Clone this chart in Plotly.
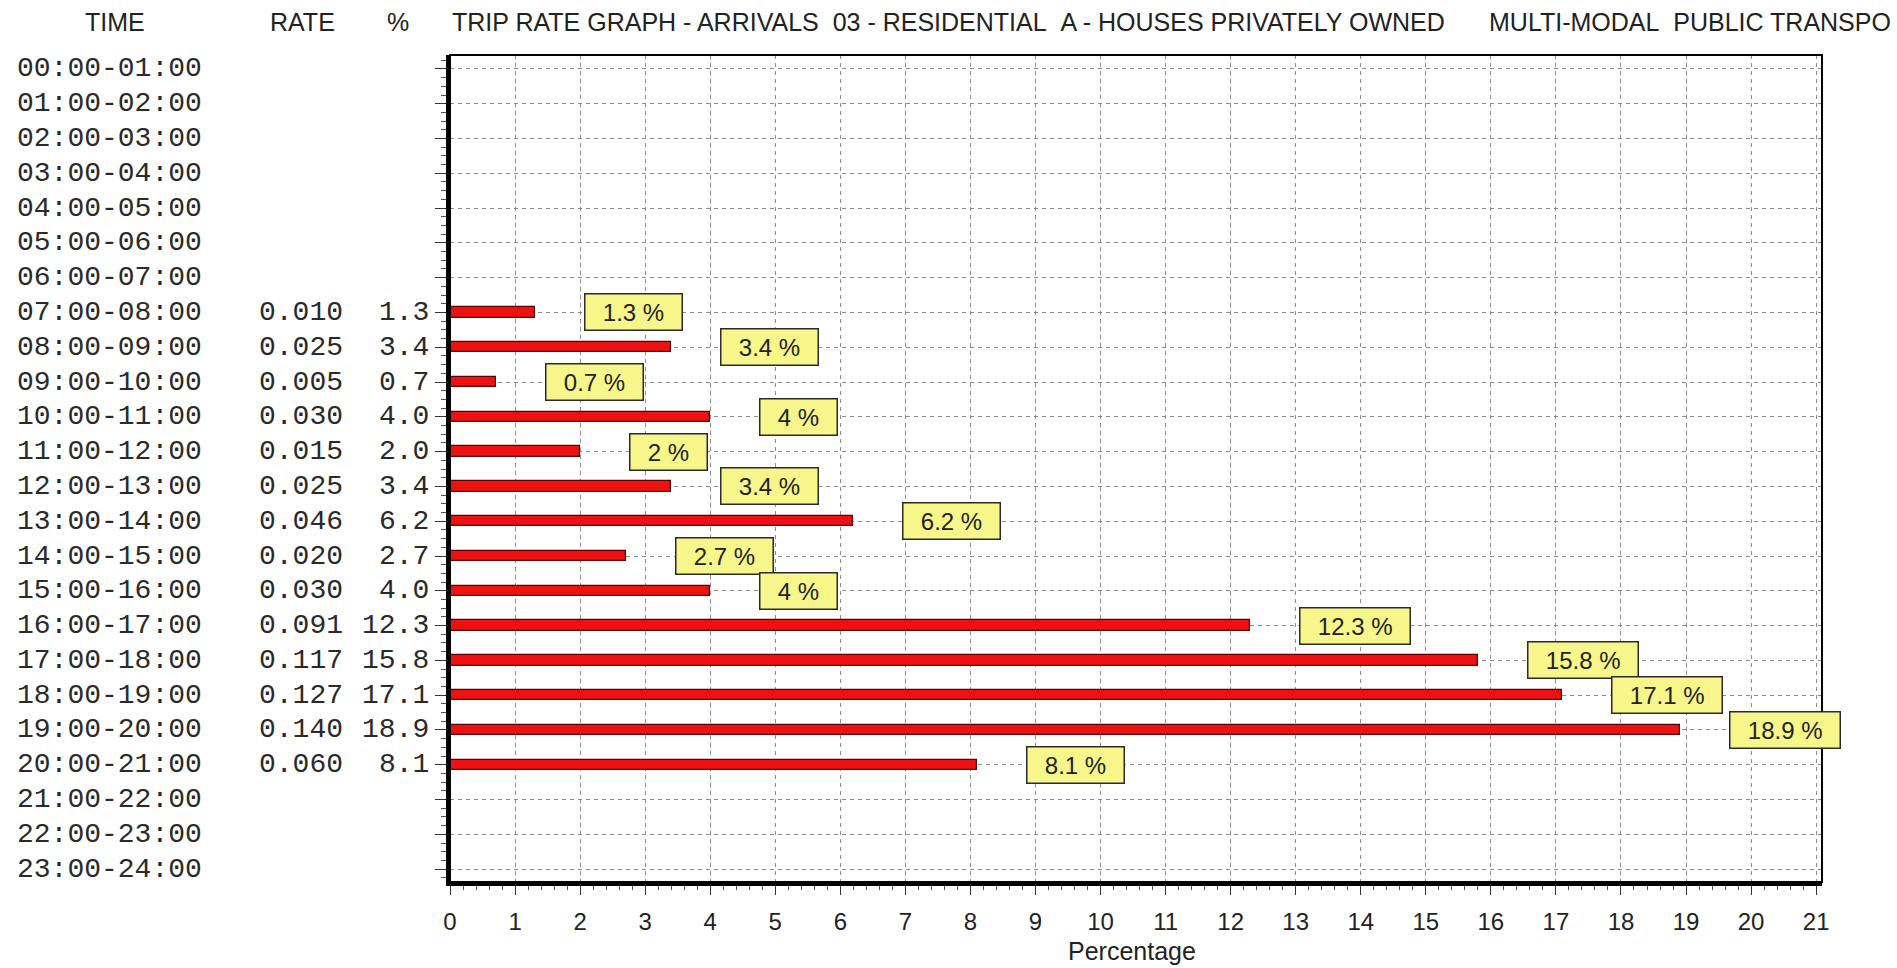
import plotly.graph_objects as go

# ---------------- data ----------------
time_labels = [
    "00:00-01:00", "01:00-02:00", "02:00-03:00", "03:00-04:00", "04:00-05:00",
    "05:00-06:00", "06:00-07:00", "07:00-08:00", "08:00-09:00", "09:00-10:00",
    "10:00-11:00", "11:00-12:00", "12:00-13:00", "13:00-14:00", "14:00-15:00",
    "15:00-16:00", "16:00-17:00", "17:00-18:00", "18:00-19:00", "19:00-20:00",
    "20:00-21:00", "21:00-22:00", "22:00-23:00", "23:00-24:00",
]
rates = [None, None, None, None, None, None, None,
         0.010, 0.025, 0.005, 0.030, 0.015, 0.025, 0.046, 0.020, 0.030,
         0.091, 0.117, 0.127, 0.140, 0.060,
         None, None, None]
percents = [None, None, None, None, None, None, None,
            1.3, 3.4, 0.7, 4.0, 2.0, 3.4, 6.2, 2.7, 4.0,
            12.3, 15.8, 17.1, 18.9, 8.1,
            None, None, None]
x_ticks = list(range(0, 22))
header_time = "TIME"
header_rate = "RATE"
header_pct = "%"
title_a = "TRIP RATE GRAPH - ARRIVALS\u00a0\u00a003 - RESIDENTIAL\u00a0\u00a0A - HOUSES PRIVATELY OWNED"
title_b = "MULTI-MODAL\u00a0\u00a0PUBLIC TRANSPO"
x_title = "Percentage"

# ---------------- geometry (pixels) ----------------
W, H = 1897, 968
L, R, T, B = 450, 1822, 55, 882
pw = R - L
ph = B - T


def px_x(p):
    return (p - L) / pw


def px_y(p):
    return (B - p) / ph


rows = list(range(len(time_labels)))

fig = go.Figure()
fig.add_trace(go.Bar(
    x=percents, y=rows, orientation="h", width=0.3,
    marker=dict(color="#EE1111", line=dict(color="#5A0000", width=1.2)),
    hoverinfo="skip", showlegend=False,
))

annotations = []
mono = dict(family="Liberation Mono", size=28, color="#2A2A2A")
for i, t in enumerate(time_labels):
    annotations.append(dict(xref="paper", yref="y", x=px_x(15), y=i, text=t,
                            xanchor="left", yanchor="middle", showarrow=False, font=mono))
    if rates[i] is not None:
        annotations.append(dict(xref="paper", yref="y", x=px_x(345), y=i,
                                text=f"{rates[i]:.3f}", xanchor="right", yanchor="middle",
                                showarrow=False, font=mono))
    if percents[i] is not None:
        annotations.append(dict(xref="paper", yref="y", x=px_x(431), y=i,
                                text=f"{percents[i]:.1f}", xanchor="right", yanchor="middle",
                                showarrow=False, font=mono))
        annotations.append(dict(xref="x", yref="y", x=percents[i], y=i, xshift=49,
                                text="\u00a0\u00a0" + f"{percents[i]:g} %" + "\u00a0\u00a0",
                                xanchor="left", yanchor="middle", showarrow=False,
                                bgcolor="#F6F68A", bordercolor="#2A2A2A", borderwidth=1.5,
                                borderpad=4,
                                font=dict(family="Liberation Sans", size=24, color="#222222")))

hdr_font = dict(family="Liberation Sans", size=25, color="#222222")
hy = px_y(22)
annotations += [
    dict(xref="paper", yref="paper", x=px_x(115), y=hy, text=header_time, xanchor="center",
         yanchor="middle", showarrow=False, font=hdr_font),
    dict(xref="paper", yref="paper", x=px_x(302), y=hy, text=header_rate, xanchor="center",
         yanchor="middle", showarrow=False, font=hdr_font),
    dict(xref="paper", yref="paper", x=px_x(398), y=hy, text=header_pct, xanchor="center",
         yanchor="middle", showarrow=False, font=hdr_font),
    dict(xref="paper", yref="paper", x=px_x(450), y=hy, text=title_a, xanchor="left",
         yanchor="middle", showarrow=False, font=hdr_font),
    dict(xref="paper", yref="paper", x=px_x(1893), y=hy, text=title_b, xanchor="right",
         yanchor="middle", showarrow=False, font=hdr_font),
    dict(xref="paper", yref="paper", x=px_x(1132), y=px_y(951), text=x_title,
         xanchor="center", yanchor="middle", showarrow=False,
         font=dict(family="Liberation Sans", size=25, color="#222222")),
]

fig.update_layout(
    width=W, height=H,
    margin=dict(l=L, r=W - R, t=T, b=H - B, pad=0),
    paper_bgcolor="white", plot_bgcolor="white",
    annotations=annotations,
    bargap=0,
    shapes=[dict(type="rect", xref="paper", yref="paper", x0=0, x1=1, y0=0, y1=1,
                 line=dict(color="black", width=2), layer="above")],
)
fig.update_xaxes(
    range=[0, 21.09], tickvals=x_ticks, ticktext=[str(v) for v in x_ticks],
    showgrid=True, gridcolor="#8C8C8C", gridwidth=1, griddash="4px,4px",
    showline=True, linecolor="black", linewidth=4, zeroline=False,
    ticks="outside", ticklen=9, tickwidth=1, tickcolor="#333333",
    ticklabelstandoff=6, automargin=False,
    minor=dict(dtick=0.2, tick0=0, ticks="outside", ticklen=4, tickcolor="#555555", showgrid=False),
    tickfont=dict(family="Liberation Sans", size=24, color="#222222"),
)
fig.update_yaxes(
    range=[23.37, -0.40], tickvals=rows, showticklabels=False, automargin=False,
    showgrid=True, gridcolor="#8C8C8C", gridwidth=1, griddash="4px,4px",
    showline=True, linecolor="black", linewidth=4, zeroline=False,
    ticks="outside", ticklen=11, tickwidth=1, tickcolor="#333333",
    minor=dict(dtick=0.25, tick0=0, ticks="outside", ticklen=5, tickcolor="#555555", showgrid=False),
)

fig.write_html("out.html", config={"displayModeBar": False},
               post_script="document.body.style.margin='0';")
